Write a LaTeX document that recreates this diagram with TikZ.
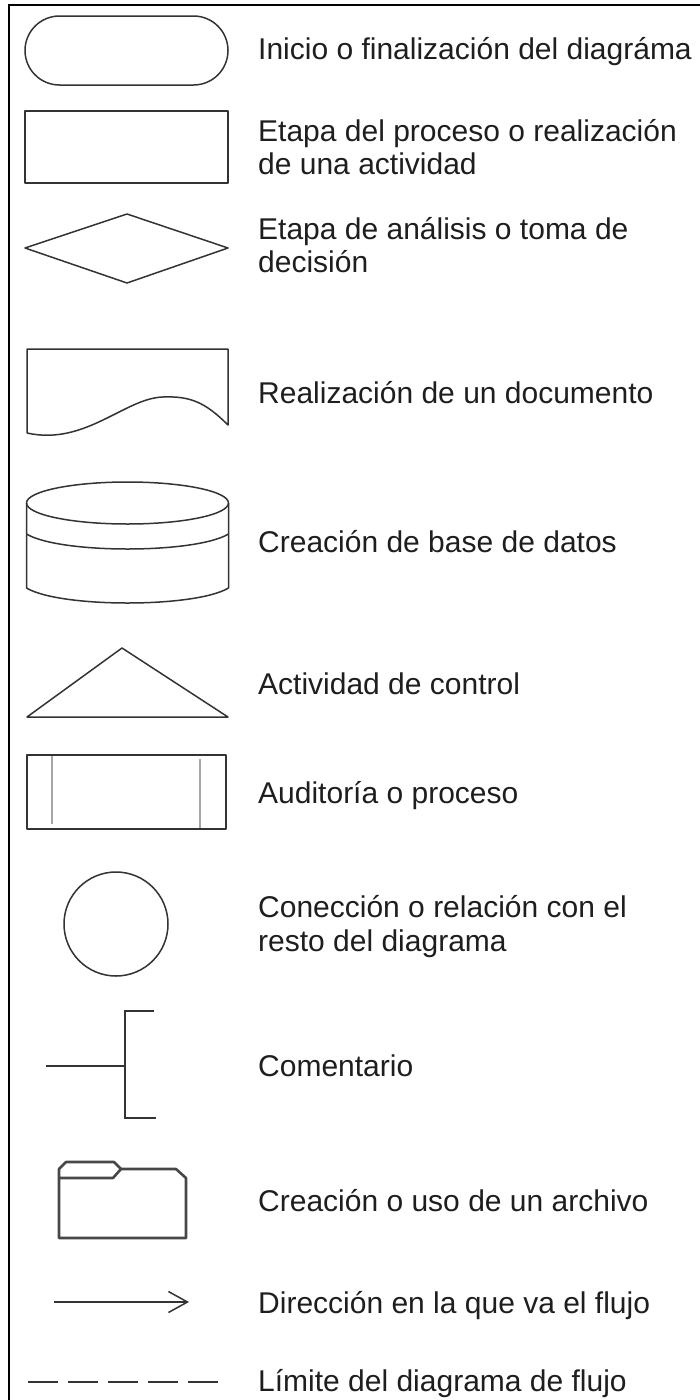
\documentclass[tikz,border=0pt]{standalone}
\usepackage{fontspec}
\setmainfont{Liberation Sans}
\usetikzlibrary{arrows.meta}
\definecolor{shapecol}{HTML}{333333}
\definecolor{textcol}{HTML}{1E1E1E}
\begin{document}
\begin{tikzpicture}[x=1pt,y=-1pt,
  shp/.style={draw=shapecol,line width=1.5pt,line join=round},
  lbl/.style={anchor=base west,inner sep=0pt,text=textcol,font=\fontsize{30}{33}\selectfont},
  innerline/.style={draw=gray!70,line width=2.4pt},
  folderline/.style={draw=shapecol!90,line width=2.6pt,line join=round}]
\useasboundingbox (0,0) rectangle (700,1400);
% frame
\draw[line width=2pt,black] (9,1405) -- (9,5) -- (705,5);
% 1 terminal
\draw[shp,rounded corners=34.5pt] (25,16) rectangle (228,85);
\node[lbl] (t1) at (258,59) {Inicio o finalización del diagráma};
% 2 process
\draw[shp] (25,111) rectangle (228,183);
\node[lbl] (t2a) at (258,141) {Etapa del proceso o realización};
\node[lbl] (t2b) at (258,174) {de una actividad};
% 3 decision
\draw[shp] (25,248) -- (127,214) -- (228,248) -- (127,283) -- cycle;
\node[lbl] (t3a) at (258,239) {Etapa de análisis o toma de};
\node[lbl] (t3b) at (258,272) {decisión};
% 4 document
\draw[shp] (27,433) -- (27,349) -- (228,349) -- (228,425)
  .. controls (205,402) and (190,396) .. (163,397)
  .. controls (125,398) and (85,446) .. (27,433);
\node[lbl] (t4) at (258,403) {Realización de un documento};
% 5 database
\draw[shp] (127.5,503) ellipse [x radius=101, y radius=21];
\draw[shp] (26.5,503) -- (26.5,588) .. controls (60,608) and (195,608) .. (228.5,588) -- (228.5,503);
\draw[shp] (26.5,534) .. controls (60,554) and (195,554) .. (228.5,534);
\node[lbl] (t5) at (258,552) {Creación de base de datos};
% 6 control
\draw[shp] (27,717) -- (122,648) -- (228,717) -- cycle;
\node[lbl] (t6) at (258,694) {Actividad de control};
% 7 audit
\draw[innerline] (52,755) -- (52,824);
\draw[innerline] (200,759) -- (200,829);
\draw[shp] (27,755) rectangle (226,829);
\node[lbl] (t7) at (258,803) {Auditoría o proceso};
% 8 connector
\draw[shp] (116,924) circle [radius=52];
\node[lbl] (t8a) at (258,917) {Conección o relación con el};
\node[lbl] (t8b) at (258,951) {resto del diagrama};
% 9 comment
\coordinate (c0) at (46,1066);
\coordinate (c1) at (125,1066);
\draw[shp,line join=miter] (c0) -- (c1);
\draw[shp,line join=miter] (154,1011) -- (125,1011) -- (125,1118) -- (156,1118);
\node[lbl] (t9) at (258,1076) {Comentario};
% 10 folder
\draw[folderline] (59,1178) -- (59,1238) -- (186,1238) -- (186,1178) -- (176,1169) -- (121,1169);
\draw[folderline] (59,1178) -- (59,1169) -- (66,1162) -- (114,1162) -- (121,1169) -- (113,1178) -- cycle;
\node[lbl] (t10) at (258,1211) {Creación o uso de un archivo};
% 11 arrow
\coordinate (a0) at (54,1302);
\coordinate (a1) at (189,1302);
\draw[shp,-{Straight Barb[length=19pt,width=21pt,line width=1.5pt]}] (a0) -- (a1);
\node[lbl] (t11) at (258,1313) {Dirección en la que va el flujo};
% 12 limit
\coordinate (d0) at (28,1382);
\coordinate (d1) at (218,1382);
\draw[shp,dash pattern=on 30pt off 10pt] (d0) -- (d1);
\node[lbl] (t12) at (258,1391) {Límite del diagrama de flujo};
\end{tikzpicture}
\end{document}
